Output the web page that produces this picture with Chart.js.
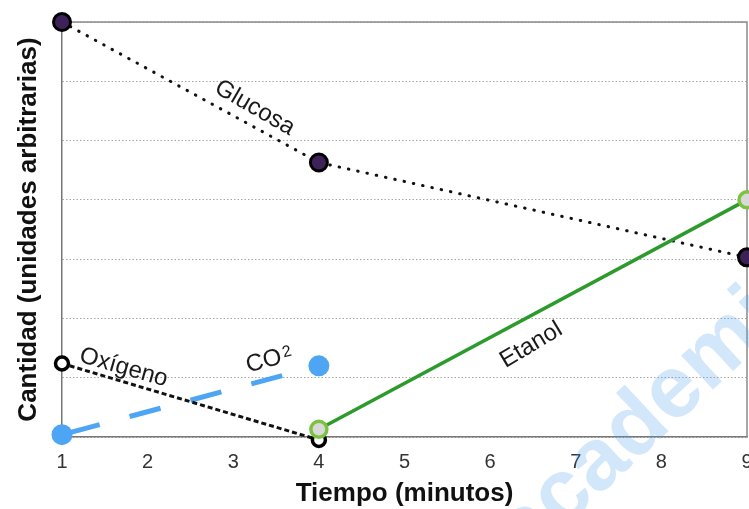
<!DOCTYPE html>
<html>
<head>
<meta charset="utf-8">
<script src="https://cdn.jsdelivr.net/npm/chart.js@4.4.1/dist/chart.umd.min.js"></script>
<style>
  html, body { margin: 0; padding: 0; background: #fff; overflow: hidden; }
  #wrap { width: 749px; height: 509px; overflow: hidden; }
  canvas { display: block; }
</style>
</head>
<body>
<div id="wrap"><canvas id="c" width="800" height="509"></canvas></div>
<script>
// ---- data ----
const glucosaX = [1, 4, 9];
const glucosaY = [7, 4.63, 3.03];
const oxigenoX = [1, 4];
const oxigenoY = [1.24, -0.05];
const co2X = [1, 4];
const co2Y = [0.04, 1.2];
const etanolX = [4, 9];
const etanolY = [0.13, 4.0];
const xTicks = [1, 2, 3, 4, 5, 6, 7, 8, 9];
const seriesNames = ['Glucosa', 'Oxígeno', 'CO2', 'Etanol'];

const pts = (xs, ys) => xs.map((x, i) => ({x: x, y: ys[i]}));

const FONT = "'Liberation Sans', Arial, Helvetica, sans-serif";

const framePlugin = {
  id: 'frame',
  beforeDatasetsDraw(chart) {
    const {ctx, chartArea: a} = chart;
    ctx.save();
    ctx.strokeStyle = '#8a8a8a';
    ctx.lineWidth = 1.5;
    ctx.beginPath();
    ctx.moveTo(a.left, a.top);
    ctx.lineTo(a.right, a.top);
    ctx.lineTo(a.right, a.bottom);
    ctx.stroke();
    ctx.restore();
  }
};

// label anchors in data units
const labelDefs = [
  {text: 'Glucosa', x: 3.25, y: 5.55, angle: 30},
  {text: 'Oxígeno', x: 1.72, y: 1.17, angle: 16},
  {text: 'CO', sub: '2', x: 3.42, y: 1.3, angle: -15},
  {text: 'Etanol', x: 6.48, y: 1.55, angle: -31}
];

const labelPlugin = {
  id: 'lineLabels',
  afterDatasetsDraw(chart) {
    const {ctx, scales} = chart;
    ctx.save();
    ctx.fillStyle = '#1a1a1a';
    labelDefs.forEach(d => {
      const px = scales.x.getPixelForValue(d.x);
      const py = scales.y.getPixelForValue(d.y);
      ctx.save();
      ctx.translate(px, py);
      ctx.rotate(d.angle * Math.PI / 180);
      ctx.textBaseline = 'middle';
      ctx.font = '24px ' + FONT;
      if (d.sub) {
        const w1 = ctx.measureText(d.text).width;
        ctx.font = '16px ' + FONT;
        const w2 = ctx.measureText(d.sub).width;
        const total = w1 + w2 + 2;
        ctx.font = '24px ' + FONT;
        ctx.textAlign = 'left';
        ctx.fillText(d.text, -total / 2, 0);
        ctx.font = '16px ' + FONT;
        ctx.fillText(d.sub, -total / 2 + w1 + 2, -3);
      } else {
        ctx.textAlign = 'center';
        ctx.fillText(d.text, 0, 0);
      }
      ctx.restore();
    });
    ctx.restore();
  }
};

const watermarkPlugin = {
  id: 'watermark',
  afterDraw(chart) {
    const {ctx} = chart;
    ctx.save();
    ctx.translate(564, 497);
    ctx.rotate(-43 * Math.PI / 180);
    ctx.font = 'bold 88px ' + FONT;
    ctx.fillStyle = 'rgba(80,160,240,0.25)';
    ctx.textBaseline = 'alphabetic';
    const wa = ctx.measureText('a').width;
    const wc = ctx.measureText('c').width;
    ctx.fillText('academia', -wa - wc / 2, 23);
    ctx.restore();
  }
};

new Chart(document.getElementById('c'), {
  type: 'line',
  data: {
    datasets: [
      {
        label: seriesNames[3],
        data: pts(etanolX, etanolY),
        borderColor: '#2c9b2c',
        borderWidth: 3.5,
        pointRadius: 8,
        pointBorderWidth: 3.5,
        pointBorderColor: '#7cc242',
        pointBackgroundColor: '#d9d9d9',
        order: 1
      },
      {
        label: seriesNames[0],
        data: pts(glucosaX, glucosaY),
        borderColor: '#111',
        borderWidth: 3,
        borderDash: [0.5, 9],
        borderCapStyle: 'round',
        pointRadius: 8.5,
        pointBorderWidth: 3,
        pointBorderColor: '#000',
        pointBackgroundColor: '#3d2159',
        order: 2
      },
      {
        label: seriesNames[1],
        data: pts(oxigenoX, oxigenoY),
        borderColor: '#111',
        borderWidth: 3,
        borderDash: [5, 3],
        pointRadius: 6.5,
        pointBorderWidth: 3.5,
        pointBorderColor: '#000',
        pointBackgroundColor: '#fff',
        order: 3
      },
      {
        label: seriesNames[2],
        data: pts(co2X, co2Y),
        borderColor: '#4ea5f3',
        borderWidth: 5,
        borderDash: [32, 31],
        borderDashOffset: -7,
        pointRadius: 10.5,
        pointBorderWidth: 0,
        pointBackgroundColor: '#4ea5f3',
        pointBorderColor: '#4ea5f3',
        order: 4
      }
    ]
  },
  options: {
    responsive: false,
    animation: false,
    devicePixelRatio: 1,
    layout: { padding: { top: 22, right: 53, left: 0, bottom: 0 } },
    elements: { line: { tension: 0, fill: false } },
    datasets: { line: { clip: false } },
    plugins: { legend: { display: false }, tooltip: { enabled: false } },
    scales: {
      x: {
        type: 'linear',
        min: 1, max: 9,
        afterBuildTicks(scale) { scale.ticks = xTicks.map(v => ({value: v})); },
        afterFit(scale) { scale.height = 72; },
        ticks: { color: '#333', font: { size: 20, family: FONT }, padding: 5, maxRotation: 0 },
        grid: { display: false },
        border: { display: true, color: '#777', width: 1.5 },
        title: {
          display: true,
          text: 'Tiempo (minutos)',
          color: '#111',
          font: { size: 26, weight: 'bold', family: FONT },
          padding: { top: 0, bottom: 0 }
        }
      },
      y: {
        min: 0, max: 7,
        ticks: { display: false, stepSize: 1 },
        afterFit(scale) { scale.width = 62; },
        grid: { color: '#a8a8a8', lineWidth: 1, drawTicks: false },
        border: { display: true, color: '#777', width: 1.5, dash: [1.5, 2] },
        title: {
          display: true,
          text: 'Cantidad (unidades arbitrarias)',
          color: '#111',
          font: { size: 26, weight: 'bold', family: FONT },
          padding: { top: 13, bottom: 0 }
        }
      }
    }
  },
  plugins: [framePlugin, labelPlugin, watermarkPlugin]
});
</script>
</body>
</html>
